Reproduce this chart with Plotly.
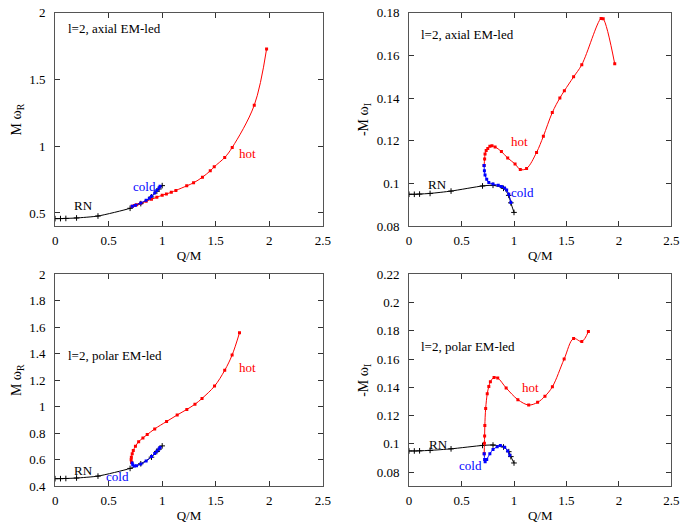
import plotly.graph_objects as go

# ---------------- data ----------------
# Reissner-Nordstrom (shared: axial/polar isospectral)
rn_q = [0, 0.05, 0.1, 0.2, 0.4, 0.7, 0.8, 0.9, 0.95, 0.97, 1.0]
rn_wr = [0.4576, 0.4579, 0.459, 0.4625, 0.477, 0.535, 0.570, 0.620, 0.663, 0.680, 0.705]
rn_wi = [0.0950, 0.0950, 0.0951, 0.0954, 0.0965, 0.0989, 0.0992, 0.0978, 0.0945, 0.0910, 0.0865]

# axial, real part
ax_hot_q = [0.72, 0.74, 0.76, 0.80, 0.85, 0.90, 0.95, 1.0, 1.039, 1.085, 1.128, 1.229, 1.293, 1.376, 1.449, 1.486, 1.584, 1.654, 1.86, 1.975]
ax_hot_wr = [0.551, 0.556, 0.561, 0.572, 0.588, 0.603, 0.617, 0.633, 0.642, 0.655, 0.669, 0.703, 0.726, 0.768, 0.816, 0.846, 0.916, 0.991, 1.308, 1.729]
ax_cold_q = [0.72, 0.75, 0.80, 0.85, 0.88, 0.90, 0.93, 0.95, 0.97, 0.98]
ax_cold_wr = [0.551, 0.558, 0.575, 0.595, 0.610, 0.625, 0.650, 0.668, 0.688, 0.700]

# axial, imaginary part
ax_hot_q2 = [0.715, 0.72, 0.724, 0.735, 0.75, 0.77, 0.79, 0.82, 0.88, 0.94, 1.01, 1.06, 1.12, 1.215, 1.28, 1.365, 1.437, 1.48, 1.568, 1.646, 1.83, 1.85, 1.96]
ax_hot_wi = [0.1085, 0.1115, 0.1139, 0.1155, 0.1165, 0.1175, 0.1177, 0.1172, 0.1150, 0.1120, 0.1092, 0.1066, 0.1071, 0.1146, 0.1222, 0.1333, 0.1401, 0.1435, 0.1500, 0.1557, 0.1774, 0.1772, 0.1561]
ax_cold_q2 = [0.715, 0.718, 0.724, 0.74, 0.76, 0.80, 0.85, 0.88, 0.91, 0.93, 0.95, 0.97]
ax_cold_wi = [0.1085, 0.1060, 0.1040, 0.1020, 0.1005, 0.0998, 0.0992, 0.0987, 0.0980, 0.0970, 0.0950, 0.0912]

# polar, real part
po_hot_q = [0.714, 0.71, 0.712, 0.72, 0.73, 0.75, 0.78, 0.82, 0.86, 0.93, 1.041, 1.14, 1.23, 1.306, 1.372, 1.489, 1.584, 1.653, 1.722]
po_hot_wr = [0.580, 0.600, 0.620, 0.645, 0.670, 0.702, 0.736, 0.765, 0.790, 0.833, 0.889, 0.938, 0.980, 1.019, 1.063, 1.156, 1.275, 1.390, 1.558]
po_cold_q = [0.72, 0.725, 0.74, 0.76, 0.80, 0.85, 0.90, 0.93, 0.95, 0.97, 0.98]
po_cold_wr = [0.575, 0.560, 0.553, 0.556, 0.568, 0.590, 0.625, 0.648, 0.665, 0.682, 0.692]

# polar, imaginary part
po_hot_q2 = [0.716, 0.718, 0.72, 0.722, 0.73, 0.745, 0.76, 0.775, 0.81, 0.845, 0.925, 1.037, 1.14, 1.225, 1.295, 1.366, 1.478, 1.568, 1.646, 1.709]
po_hot_wi = [0.0930, 0.1005, 0.1056, 0.1130, 0.1250, 0.1354, 0.1406, 0.1440, 0.1470, 0.1466, 0.1396, 0.1313, 0.1275, 0.1294, 0.1337, 0.1404, 0.1600, 0.1745, 0.1724, 0.1795]
po_cold_q2 = [0.716, 0.72, 0.725, 0.74, 0.77, 0.80, 0.84, 0.87, 0.91, 0.94, 0.96]
po_cold_wi = [0.0930, 0.0890, 0.0873, 0.0890, 0.0930, 0.0960, 0.0980, 0.0988, 0.0977, 0.0950, 0.0920]

x_ticks = [0, 0.5, 1, 1.5, 2, 2.5]
x_ticklabels = ["0", "0.5", "1", "1.5", "2", "2.5"]
yr_top_ticks = [0.5, 1, 1.5, 2]
yi_top_ticks = [0.08, 0.10, 0.12, 0.14, 0.16, 0.18]
yr_bot_ticks = [0.4, 0.6, 0.8, 1.0, 1.2, 1.4, 1.6, 1.8, 2.0]
yi_bot_ticks = [0.08, 0.10, 0.12, 0.14, 0.16, 0.18, 0.20, 0.22]

# ---------------- figure ----------------
W, H = 685, 529
FONT = "Liberation Serif"
FS = 13
fig = go.Figure()

panels = [
    ("x", "y", rn_wr, ax_hot_q, ax_hot_wr, ax_cold_q, ax_cold_wr),
    ("x2", "y2", rn_wi, ax_hot_q2, ax_hot_wi, ax_cold_q2, ax_cold_wi),
    ("x3", "y3", rn_wr, po_hot_q, po_hot_wr, po_cold_q, po_cold_wr),
    ("x4", "y4", rn_wi, po_hot_q2, po_hot_wi, po_cold_q2, po_cold_wi),
]

for xa, ya, rny, hq, hy, cq, cy in panels:
    fig.add_trace(go.Scatter(x=rn_q, y=rny, xaxis=xa, yaxis=ya, mode="lines+markers",
                             line=dict(color="black", width=1, shape="spline", smoothing=0.6),
                             marker=dict(symbol="cross-thin", size=4, line=dict(color="black", width=1)),
                             showlegend=False, hoverinfo="skip"))
    fig.add_trace(go.Scatter(x=hq, y=hy, xaxis=xa, yaxis=ya, mode="lines+markers",
                             line=dict(color="#ff0000", width=1, shape="spline", smoothing=1.0),
                             marker=dict(symbol="square", size=3, color="#ff0000"),
                             showlegend=False, hoverinfo="skip"))
    fig.add_trace(go.Scatter(x=cq, y=cy, xaxis=xa, yaxis=ya, mode="lines+markers",
                             line=dict(color="#0000ff", width=1, shape="spline", smoothing=0.8),
                             marker=dict(symbol="square", size=3, color="#0000ff"),
                             showlegend=False, hoverinfo="skip"))

def hx(a, b):
    return [a / W, b / W]

def vy(top, bot):
    return [1 - bot / H, 1 - top / H]

xl, xr = hx(53, 325), hx(412.7, 679.3)
yt, yb = vy(6, 225.7), vy(275, 493.3)

axcommon = dict(showline=True, linecolor="#555555", linewidth=1, mirror="ticks",
                ticks="inside", ticklen=5, tickcolor="#333333", showgrid=False, zeroline=False,
                ticklabeloverflow="allow",
                tickfont=dict(family=FONT, size=FS, color="black"))

def xax(domain, anchor):
    return dict(axcommon, domain=domain, anchor=anchor, range=[0, 2.5],
                tickvals=x_ticks, ticktext=x_ticklabels, ticklabelstandoff=2,
                title=dict(text="Q/M", font=dict(family=FONT, size=FS, color="black"), standoff=3))

def yax(domain, anchor, rng, tv, title, fmt):
    return dict(axcommon, domain=domain, anchor=anchor, range=rng, tickvals=tv,
                ticktext=[fmt(v) for v in tv], ticklabelstandoff=6,
                title=dict(text=title, font=dict(family=FONT, size=14, color="black"), standoff=4))

def g(v):
    return ("%.2f" % v).rstrip("0").rstrip(".")

fig.update_layout(
    width=W, height=H, margin=dict(l=0, r=0, t=0, b=0),
    paper_bgcolor="white", plot_bgcolor="white",
    xaxis=xax(xl, "y"), yaxis=yax(yt, "x", [0.4, 2.0], yr_top_ticks, "M ω<sub>R</sub>", g),
    xaxis2=xax(xr, "y2"), yaxis2=yax(yt, "x2", [0.08, 0.18], yi_top_ticks, "-M ω<sub>I</sub>", g),
    xaxis3=xax(xl, "y3"), yaxis3=yax(yb, "x3", [0.4, 2.0], yr_bot_ticks, "M ω<sub>R</sub>", g),
    xaxis4=xax(xr, "y4"), yaxis4=yax(yb, "x4", [0.07, 0.22], yi_bot_ticks, "-M ω<sub>I</sub>", g),
)

def ann(text, x, y, xr_, yr_, color, xanchor="center"):
    fig.add_annotation(text=text, x=x, y=y, xref=xr_, yref=yr_, showarrow=False,
                       xanchor=xanchor, yanchor="middle",
                       font=dict(family=FONT, size=FS, color=color))

ann("l=2, axial EM-led", 0.104, 1.886, "x", "y", "black", "left")
ann("hot", 1.80, 0.946, "x", "y", "#ff0000")
ann("cold", 0.836, 0.702, "x", "y", "#0000ff")
ann("RN", 0.264, 0.558, "x", "y", "black")

ann("l=2, axial EM-led", 0.094, 0.1698, "x2", "y2", "black", "left")
ann("hot", 1.055, 0.1199, "x2", "y2", "#ff0000")
ann("cold", 1.078, 0.0957, "x2", "y2", "#0000ff")
ann("RN", 0.272, 0.0998, "x2", "y2", "black")

ann("l=2, polar EM-led", 0.104, 1.389, "x3", "y3", "black", "left")
ann("hot", 1.80, 1.295, "x3", "y3", "#ff0000")
ann("cold", 0.585, 0.476, "x3", "y3", "#0000ff")
ann("RN", 0.264, 0.52, "x3", "y3", "black")

ann("l=2, polar EM-led", 0.099, 0.169, "x4", "y4", "black", "left")
ann("hot", 1.156, 0.1399, "x4", "y4", "#ff0000")
ann("cold", 0.59, 0.0846, "x4", "y4", "#0000ff")
ann("RN", 0.281, 0.0999, "x4", "y4", "black")

# remove the page's default 8px body margin so the figure sits at the window origin
fig.write_html("out.html", config={"displayModeBar": False},
               post_script="document.body.style.margin='0px';")
